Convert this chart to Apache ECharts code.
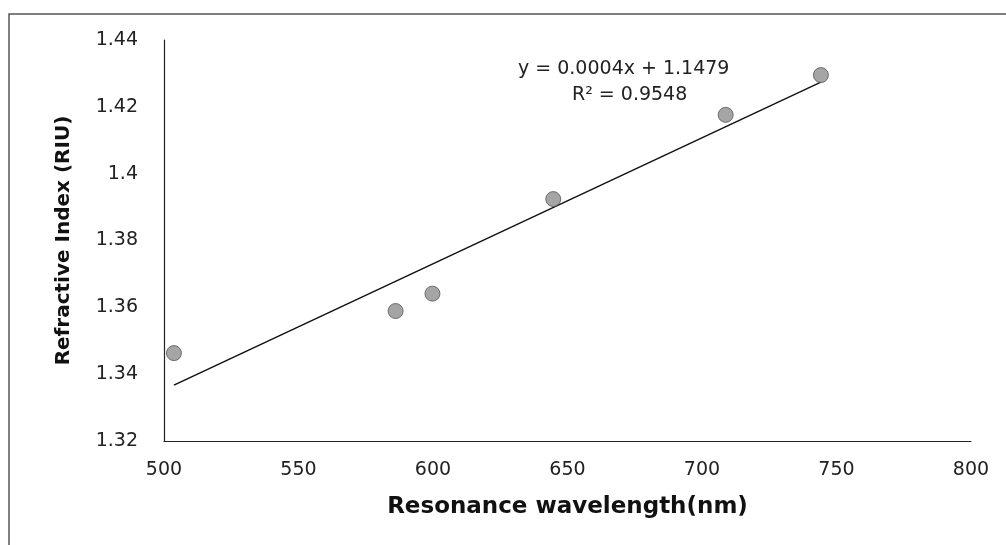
<!DOCTYPE html>
<html>
<head>
<meta charset="utf-8">
<script src="https://cdn.jsdelivr.net/npm/echarts@6/dist/echarts.min.js"></script>
<style>
  html, body { margin: 0; padding: 0; background: #fff; }
  #chart { width: 1006px; height: 545px; }
</style>
</head>
<body>
<div id="chart"></div>
<script>
// resonance wavelength (nm) vs refractive index (RIU)
const wavelength = [503.7, 586.1, 599.8, 644.7, 708.8, 744.2];
const refractiveIndex = [1.3463, 1.3589, 1.3641, 1.3924, 1.4176, 1.4295];
const trendLabel = ["y = 0.0004x + 1.1479", "R\u00B2 = 0.9548"];

// linear trendline (least squares), drawn over the data range
function linearFit(xs, ys) {
  const n = xs.length;
  const mx = xs.reduce((a, b) => a + b, 0) / n;
  const my = ys.reduce((a, b) => a + b, 0) / n;
  let sxy = 0, sxx = 0;
  xs.forEach((x, i) => {
    sxy += (x - mx) * (ys[i] - my);
    sxx += (x - mx) * (x - mx);
  });
  const slope = sxy / sxx;
  return { slope, intercept: my - slope * mx };
}

const fit = linearFit(wavelength, refractiveIndex);
const xMin = Math.min(...wavelength);
const xMax = Math.max(...wavelength);
const trendData = [
  [xMin, fit.intercept + fit.slope * xMin],
  [xMax, fit.intercept + fit.slope * xMax]
];

const font = "'DejaVu Sans', Verdana, sans-serif";
const chart = echarts.init(document.getElementById("chart"));

chart.setOption({
  animation: false,
  backgroundColor: "#fff",
  grid: { left: 164, right: 35, top: 40, bottom: 104 },
  graphic: [
    {
      type: "polyline",
      shape: { points: [[9, 545], [9, 14], [1006, 14]] },
      style: { stroke: "#555", lineWidth: 1.5, fill: null }
    },
    {
      type: "text",
      left: 518,
      top: 60,
      style: { text: trendLabel[0], font: "19px " + font, fill: "#222" }
    },
    {
      type: "text",
      left: 572,
      top: 86,
      style: { text: trendLabel[1], font: "19px " + font, fill: "#222" }
    }
  ],
  xAxis: {
    type: "value",
    min: 500,
    max: 800,
    interval: 50,
    name: "Resonance wavelength(nm)",
    nameLocation: "middle",
    nameGap: 55,
    nameTextStyle: { fontFamily: font, fontSize: 23, fontWeight: "bold", color: "#111" },
    axisLine: { show: true, lineStyle: { color: "#222", width: 1.2 } },
    axisTick: { show: false },
    splitLine: { show: false },
    axisLabel: { fontFamily: font, fontSize: 19, color: "#222", margin: 20 }
  },
  yAxis: {
    type: "value",
    min: 1.32,
    max: 1.44,
    interval: 0.02,
    name: "Refractive Index (RIU)",
    nameLocation: "middle",
    nameGap: 90,
    nameTextStyle: { fontFamily: font, fontSize: 20, fontWeight: "bold", color: "#111" },
    axisLine: { show: true, lineStyle: { color: "#222", width: 1.2 } },
    axisTick: { show: false },
    splitLine: { show: false },
    axisLabel: {
      fontFamily: font, fontSize: 19, color: "#222", margin: 26,
      formatter: v => String(parseFloat(v.toFixed(2)))
    }
  },
  series: [
    {
      type: "line",
      data: trendData,
      symbol: "none",
      lineStyle: { color: "#111", width: 1.5 },
      z: 2
    },
    {
      type: "scatter",
      data: wavelength.map((x, i) => [x, refractiveIndex[i]]),
      symbolSize: 15,
      itemStyle: { color: "#8f8f8f", borderColor: "#555", borderWidth: 1 },
      z: 3
    }
  ]
});
</script>
</body>
</html>
